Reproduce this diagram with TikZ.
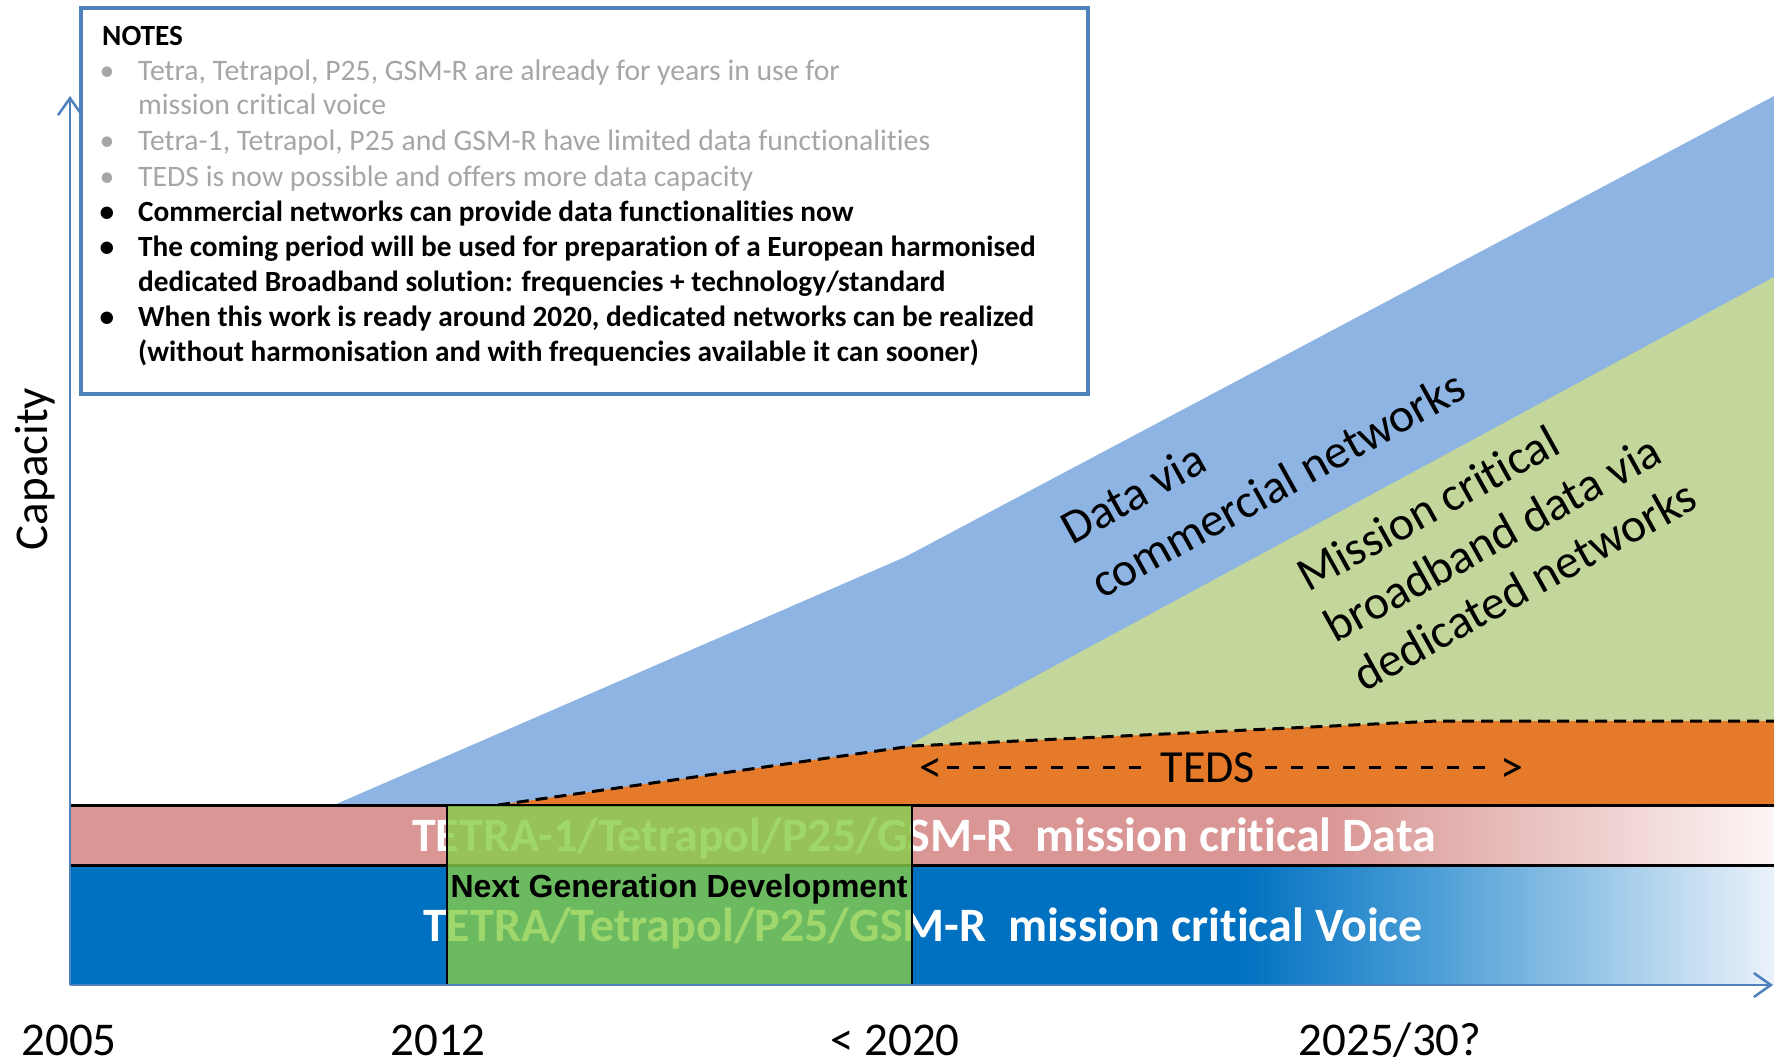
\documentclass[tikz,border=0pt]{standalone}
\usepackage{fontspec}
\setmainfont{Carlito}[Ligatures=NoCommon]
\newfontfamily\arialfont{Liberation Sans}
\usetikzlibrary{arrows.meta}

\definecolor{axisblue}{RGB}{79,129,189}
\definecolor{commblue}{RGB}{141,180,226}
\definecolor{dedgreen}{RGB}{195,214,155}
\definecolor{tedsorange}{RGB}{228,122,42}
\definecolor{datapink}{RGB}{217,150,148}
\definecolor{datafade}{RGB}{252,245,245}
\definecolor{voiceblue}{RGB}{0,112,192}
\definecolor{voicemid}{RGB}{70,155,213}
\definecolor{voicefade}{RGB}{235,242,250}
\definecolor{ngdgreen}{RGB}{135,205,72}
\definecolor{notegray}{RGB}{166,166,166}

\tikzset{
  notetext/.style={anchor=base west, inner sep=0pt, font=\fontsize{29.7}{35}\selectfont},
  notegrey/.style={notetext, text=notegray},
  notebold/.style={notetext, font=\fontsize{29.3}{35}\selectfont\bfseries},
  bandtext/.style={anchor=base, inner sep=0pt, text=white, font=\fontsize{48}{58}\selectfont\bfseries},
  diagtext/.style={anchor=base west, inner sep=0pt, rotate=29, font=\fontsize{48}{58}\selectfont},
  yearlabel/.style={anchor=base, inner sep=0pt, font=\fontsize{47}{56}\selectfont},
  capaxis/.style={draw=axisblue, line width=2.5pt, -{Straight Barb[length=17pt,width=24pt,line width=2.5pt]}},
  bandline/.style={line width=3pt},
  dashedge/.style={line width=3pt, dash pattern=on 12pt off 7pt},
  tedsdash/.style={line width=2.8pt, dash pattern=on 12pt off 14pt},
}

\begin{document}
\begin{tikzpicture}[x=1pt,y=1pt,yscale=-1,xscale=1]
\useasboundingbox (0,0) rectangle (1774,1062);

%Data via commercial networks
\fill[commblue] (334,805) -- (905,557) -- (1774,96) -- (1774,805) -- cycle;
%Dedicated networks
\fill[dedgreen] (912,743) -- (1774,277) -- (1774,805) -- (912,805) -- cycle;
%TEDS
\fill[tedsorange] (498,805) -- (912,746) -- (1437,721) -- (1774,721) -- (1774,805) -- cycle;
\draw[dashedge] (498,805) -- (912,746) -- (1437,721) -- (1774,721);

%Data band
\fill[datapink] (70,805) rectangle (1330,865);
\shade[left color=datapink, right color=datafade] (1329,805) rectangle (1774,865);
%Voice band
\fill[voiceblue] (70,865) rectangle (1240,985);
\shade[left color=voiceblue, right color=voicemid] (1239,865) rectangle (1420,985);
\shade[left color=voicemid, right color=voicefade] (1419,865) rectangle (1774,985);
\draw[bandline] (70,805) -- (1774,805);
\draw[bandline] (70,865) -- (1774,865);

% Text Node
\node[bandtext] (datatxt) at (924,851) {TETRA-1/Tetrapol/P25/GSM-R\ \ mission critical Data};
% Text Node
\node[bandtext] (voicetxt) at (923,941) {TETRA/Tetrapol/P25/GSM-R\ \ mission critical Voice};

%Next generation box
\filldraw[fill=ngdgreen, fill opacity=0.8, draw=black, line width=2.5pt] (447,805) rectangle (912,985);
% Text Node
\node[anchor=base, inner sep=0pt, font=\arialfont\fontsize{32}{38}\selectfont\bfseries] (ngd) at (679,897) {Next Generation Development};

%Axes
\coordinate (origin) at (70,985);
\coordinate (ytop) at (70,96);
\coordinate (xend) at (1773,985);
\draw[capaxis] (origin) -- (ytop);
\draw[capaxis] (origin) -- (xend);

%Notes box
\filldraw[fill=white, draw=axisblue, line width=4pt] (81,8) rectangle (1088,394);
% Text Node
\node[notebold] (notes) at (102,46) {NOTES};
\node[notegrey, anchor=base] (b1) at (107,81) {•};
\node[notegrey] (n1a) at (138,81) {Tetra, Tetrapol, P25, GSM-R are already for years in use for};
\node[notegrey] (n1b) at (138,115) {mission critical voice};
\node[notegrey, anchor=base] (b2) at (107,150) {•};
\node[notegrey] (n2) at (138,150) {Tetra-1, Tetrapol, P25 and GSM-R have limited data functionalities};
\node[notegrey, anchor=base] (b3) at (107,186) {•};
\node[notegrey] (n3) at (138,186) {TEDS is now possible and offers more data capacity};
\node[notebold, anchor=base] (b4) at (107,221) {•};
\node[notebold] (n4) at (138,221) {Commercial networks can provide data functionalities now};
\node[notebold, anchor=base] (b5) at (107,256) {•};
\node[notebold] (n5a) at (138,256) {The coming period will be used for preparation of a European harmonised};
\node[notebold] (n5b) at (138,291) {dedicated Broadband solution: frequencies + technology/standard};
\node[notebold, anchor=base] (b6) at (107,326) {•};
\node[notebold] (n6a) at (138,326) {When this work is ready around 2020, dedicated networks can be realized};
\node[notebold] (n6b) at (138,361) {(without harmonisation and with frequencies available it can sooner)};

%TEDS span
\node[anchor=base, inner xsep=10pt, inner ysep=0pt, font=\fontsize{46}{55}\selectfont] (teds) at (1208,782) {TEDS};
\node[anchor=base, inner xsep=4pt, inner ysep=0pt, font=\fontsize{46}{55}\selectfont] (lt) at (931,782) {<};
\node[anchor=base, inner xsep=4pt, inner ysep=0pt, font=\fontsize{46}{55}\selectfont] (gt) at (1512,782) {>};
\draw[tedsdash] (lt.east |- teds.west) -- (teds.west);
\draw[tedsdash] (teds.east) -- (gt.west |- teds.east);

% Text Node
\node[diagtext] (dv1) at (1072,546) {Data via};
\node[diagtext] (dv2) at (1102,600) {commercial networks};
\node[diagtext] (mc1) at (1308,593) {Mission critical};
\node[diagtext] (mc2) at (1335,644) {broadband data via};
\node[diagtext] (mc3) at (1364,693) {dedicated networks};

% Text Node
\node[yearlabel, rotate=90] (capacity) at (47,469) {Capacity};
\node[yearlabel] (y2005) at (69,1055) {2005};
\node[yearlabel] (y2012) at (438,1055) {2012};
\node[yearlabel] (y2020) at (895,1055) {< 2020};
\node[yearlabel] (y2025) at (1390,1055) {2025/30?};

\end{tikzpicture}
\end{document}
